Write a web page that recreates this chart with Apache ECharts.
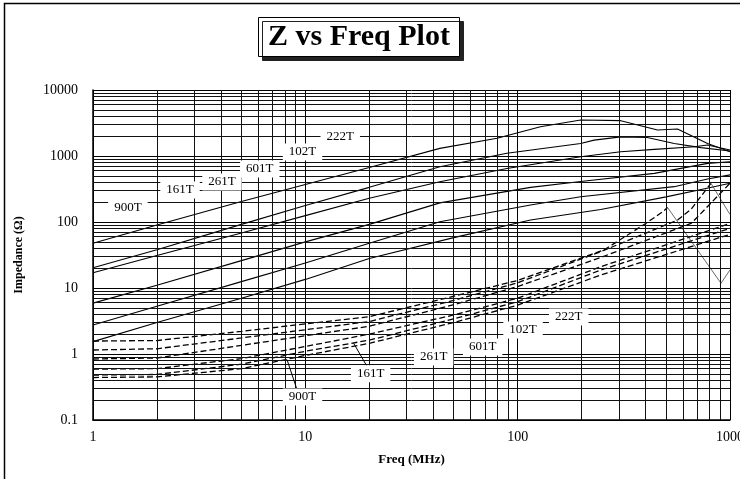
<!DOCTYPE html>
<html>
<head>
<meta charset="utf-8">
<title>Z vs Freq Plot</title>
<script src="https://cdn.jsdelivr.net/npm/echarts@6/dist/echarts.min.js"></script>
<style>
  html, body { margin: 0; padding: 0; background: #fff; }
  #chart { width: 740px; height: 479px; }
</style>
</head>
<body>
<div id="chart"></div>
<script>
// parts, in legend order
const parts = ['222T', '102T', '601T', '261T', '161T', '900T'];

// impedance |Z| (solid lines), [freq MHz, ohm]
const z222T = [[1,47.5],[2,90],[5,205],[10,370],[20,670],[43,1306],[80,1854],[128,2780],[198,3510],[306,3430],[456,2477],[566,2570],[784,1550],[1000,1160]];
const z102T = [[1,20.3],[2,38],[5,92],[10,178],[20,335],[43,689],[89,1100],[198,1550],[229,1740],[306,1950],[408,1910],[546,1550],[730,1340],[1000,1190]];
const z601T = [[1,17],[2,31],[5,68],[10,125],[20,229],[43,408],[89,646],[198,976],[306,1160],[440,1260],[680,1380],[784,1470],[1000,1230]];
const z261T = [[1,5.9],[2,11],[5,26],[10,50],[20,92],[43,195],[115,335],[198,410],[440,546],[784,774],[1000,820]];
const z161T = [[1,2.75],[2,5.3],[5,12.5],[10,24],[20,47.5],[43,101],[115,181],[198,241],[546,343],[784,447],[1000,518]];
const z900T = [[1,1.54],[2,3],[5,7],[10,13.5],[20,28],[50,58],[115,107],[246,155],[500,240],[800,330],[1000,386]];

// resistance R (dashed lines), [freq MHz, ohm]
const r222T = [[1,1.57],[2,1.6],[5,2.2],[10,2.86],[20,3.67],[50,7.5],[100,13],[255,37.7],[401,95],[482,143],[508,166]];
const r222Ttail = [[508,166],[907,11.8],[1000,18.8]];
const r102T = [[1,1.15],[2,1.2],[5,1.75],[10,2.33],[20,3.1],[50,6.5],[100,12],[246,35.5],[566,107],[655,155],[813,386]];
const r102Ttail = [[813,386],[1000,130]];
const r601T = [[1,0.84],[2,0.87],[5,1.35],[10,1.89],[20,2.63],[50,5.6],[100,10.5],[246,29],[655,95],[730,135],[1000,386]];
const r261T = [[1,0.59],[2,0.6],[5,0.85],[10,1.3],[20,2.0],[50,3.9],[100,7],[246,21],[1000,95]];
const r161T = [[1,0.48],[2,0.49],[5,0.7],[10,1.1],[20,1.62],[50,3.4],[100,6.2],[246,18.7],[1000,80]];
const r900T = [[1,0.44],[2,0.45],[5,0.6],[10,0.95],[20,1.45],[50,3.0],[100,5.5],[246,15.7],[1000,65]];

// axes
const xDecades = [1, 10, 100];
const yDecades = [0.1, 1, 10, 100, 1000];
const minorSteps = [2, 3, 4, 5, 6, 7, 8, 9];

const zData = [z222T, z102T, z601T, z261T, z161T, z900T];
const rData = [r222T, r102T, r601T, r261T, r161T, r900T];

// where the part names sit (data coords)
const tagTop = [[14.6,1940],[9.7,1150],[6.1,635],[4.05,404],[2.57,305],[1.46,163]];
const tagBottom = [[174,3.64],[106,2.31],[68.4,1.28],[40.2,0.9],[20.3,0.5],[9.7,0.223]];

const serif = 'Liberation Serif';
const chart = echarts.init(document.getElementById('chart'));

const tagLabel = {
  show: true,
  position: 'inside',
  color: '#000',
  fontFamily: serif,
  fontSize: 13,
  backgroundColor: '#fff',
  padding: [2, 6]
};

const plain = v => String(+v.toPrecision(6));

const series = [];

// minor grid lines (2..9 of each decade)
const xMinor = xDecades.flatMap(d => minorSteps.map(m => +(m * d).toPrecision(3)));
const yMinor = yDecades.flatMap(d => minorSteps.map(m => +(m * d).toPrecision(3)));
series.push({
  type: 'line',
  data: [],
  z: 1,
  silent: true,
  markLine: {
    silent: true,
    symbol: 'none',
    animation: false,
    label: { show: false },
    lineStyle: { color: '#111', width: 1, type: 'solid' },
    data: xMinor.map(v => ({ xAxis: v })).concat(yMinor.map(v => ({ yAxis: v })))
  }
});

parts.forEach((p, i) => {
  series.push({
    name: p + ' Z',
    type: 'line',
    data: zData[i],
    symbol: 'none',
    z: 3,
    lineStyle: { color: '#000', width: 1.1 },
    markPoint: {
      symbol: 'rect', symbolSize: 0, z: 10,
      label: Object.assign({ formatter: p }, tagLabel),
      data: [{ coord: tagTop[i] }]
    }
  });
  series.push({
    name: p + ' R',
    type: 'line',
    data: rData[i],
    symbol: 'none',
    z: 3,
    lineStyle: { color: '#000', width: 1.3, type: [6, 3] },
    markPoint: {
      symbol: 'rect', symbolSize: 0, z: 10,
      label: Object.assign({ formatter: p }, tagLabel),
      data: [{ coord: tagBottom[i] }]
    }
  });
});

// fall-off after resonance, drawn thin
[r222Ttail, r102Ttail].forEach(d => {
  series.push({
    type: 'line', data: d, symbol: 'none', z: 3,
    lineStyle: { color: '#444', width: 0.8 }
  });
});

// leader lines for the two lowest bottom tags
series.push({
  type: 'line', data: [], z: 4, silent: true,
  markLine: {
    silent: true, symbol: 'none', animation: false,
    label: { show: false },
    lineStyle: { color: '#000', width: 1, type: 'solid' },
    data: [
      [{ coord: [9.1, 0.3] }, { coord: [8.2, 0.82] }],
      [{ coord: [19.8, 0.6] }, { coord: [16.9, 1.45] }]
    ]
  }
});

const option = {
  animation: false,
  backgroundColor: '#fff',
  title: {
    text: 'Z vs Freq Plot',
    left: 258,
    top: 17,
    padding: [5, 10],
    backgroundColor: '#fff',
    borderColor: '#000',
    borderWidth: 1,
    shadowColor: '#222',
    shadowBlur: 0,
    shadowOffsetX: 4,
    shadowOffsetY: 4,
    textStyle: { fontFamily: serif, fontWeight: 'bold', fontSize: 30, color: '#000' }
  },
  grid: { left: 93, right: 10, top: 90, bottom: 59, outerBoundsMode: 'none' },
  xAxis: {
    type: 'log',
    logBase: 10,
    min: 1,
    max: 1000,
    name: 'Freq (MHz)',
    nameLocation: 'middle',
    nameGap: 33,
    nameTextStyle: { fontFamily: serif, fontWeight: 'bold', fontSize: 13, color: '#000' },
    axisLine: { show: true, lineStyle: { color: '#000', width: 1.5 } },
    axisTick: { show: false },
    axisLabel: { fontFamily: serif, fontSize: 14, color: '#000', margin: 10, formatter: plain },
    splitLine: { show: true, lineStyle: { color: '#000', width: 1 } }
  },
  yAxis: {
    type: 'log',
    logBase: 10,
    min: 0.1,
    max: 10000,
    name: 'Impedance (Ω)',
    nameLocation: 'middle',
    nameRotate: 90,
    nameGap: 68,
    nameTextStyle: { fontFamily: serif, fontWeight: 'bold', fontSize: 12, color: '#000' },
    axisLine: { show: true, lineStyle: { color: '#000', width: 1.5 } },
    axisTick: { show: false },
    axisLabel: { fontFamily: serif, fontSize: 14, color: '#000', margin: 15, formatter: plain },
    splitLine: { show: true, lineStyle: { color: '#000', width: 1 } }
  },
  graphic: [{
    type: 'rect',
    shape: { x: 4.5, y: 3.5, width: 800, height: 600 },
    style: { fill: null, stroke: '#000', lineWidth: 1.5 },
    silent: true,
    z: -1
  }],
  series: series
};

chart.setOption(option);
</script>
</body>
</html>
